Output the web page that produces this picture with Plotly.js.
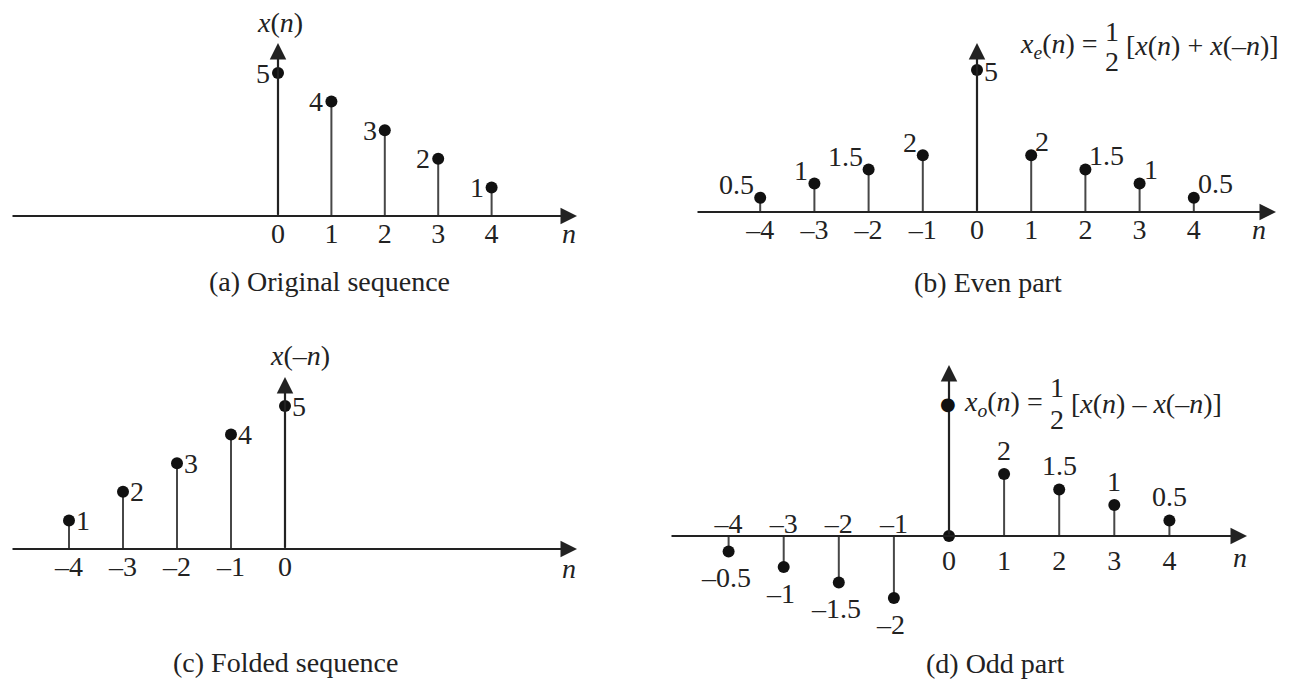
<!DOCTYPE html>
<html>
<head>
<meta charset="utf-8">
<script src="https://cdn.plot.ly/plotly-3.0.1.min.js"></script>
<style>
html,body{margin:0;padding:0;background:#fff;}
#chart{width:1289px;height:681px;}
</style>
</head>
<body>
<div id="chart"></div>
<script>
// ---------------- data ----------------
const nOriginal = [0, 1, 2, 3, 4];
const xOriginal = [5, 4, 3, 2, 1];

const nEven = [-4, -3, -2, -1, 0, 1, 2, 3, 4];
const xEven = [0.5, 1, 1.5, 2, 5, 2, 1.5, 1, 0.5];

const nFolded = [-4, -3, -2, -1, 0];
const xFolded = [1, 2, 3, 4, 5];

const nOdd = [-4, -3, -2, -1, 0, 1, 2, 3, 4];
const xOdd = [-0.5, -1, -1.5, -2, 0, 2, 1.5, 1, 0.5];

const captions = ['(a) Original sequence', '(b) Even part', '(c) Folded sequence', '(d) Odd part'];
const yLabels = ['<i>x</i>(<i>n</i>)', '<i>x</i>(–<i>n</i>)'];
const formulaEven = ['<i>x<sub>e</sub></i>(<i>n</i>) =', '1', '2', '[<i>x</i>(<i>n</i>) + <i>x</i>(–<i>n</i>)]'];
const formulaOdd = ['<i>x<sub>o</sub></i>(<i>n</i>) =', '1', '2', '[<i>x</i>(<i>n</i>) – <i>x</i>(–<i>n</i>)]'];

// ---------------- geometry / style ----------------
const W = 1289, H = 681;
const FONT = 'Liberation Serif, Times New Roman, serif';
const FS = 28;
const INK = '#222';
const STEM = '#474747';

// pixel mapping per panel: origin px, px per unit, subplot box [L,R,T,B], axis extents
const G = {
  a: {ox: 278, sx: 53.4, oy: 216, sy: 28.6, box: [0, 640, 0, 300],   hL: 11,  hR: 577,  vT: 43},
  b: {ox: 977, sx: 54.2, oy: 212, sy: 28.4, box: [645, 1289, 0, 300], hL: 696, hR: 1276, vT: 43},
  c: {ox: 285, sx: 54.0, oy: 549, sy: 28.6, box: [0, 640, 320, 681], hL: 11,  hR: 577,  vT: 377},
  d: {ox: 949, sx: 55.1, oy: 536, sy: 31.0, box: [645, 1289, 320, 681], hL: 670, hR: 1247, vT: 365}
};
function xr(g) { return [(g.box[0] - g.ox) / g.sx, (g.box[1] - g.ox) / g.sx]; }
function yr(g) { return [(g.oy - g.box[3]) / g.sy, (g.oy - g.box[2]) / g.sy]; }
function xd(g) { return [g.box[0] / W, g.box[1] / W]; }
function yd(g) { return [1 - g.box[3] / H, 1 - g.box[2] / H]; }
function P(px, py, xa, ya) {
  return {x: px / W, y: 1 - py / H, xref: 'paper', yref: 'paper',
          xanchor: xa || 'center', yanchor: ya || 'middle'};
}
function fmt(v) { return (v < 0 ? '–' : '') + String(Math.abs(v)); }

const font = {family: FONT, size: FS, color: INK};

function stemTraces(n, v, xa, ya) {
  const sx = [], sy = [];
  n.forEach((k, i) => { sx.push(k, k, null); sy.push(0, v[i], null); });
  return [
    {type: 'scatter', mode: 'lines', x: sx, y: sy, xaxis: xa, yaxis: ya,
     line: {color: STEM, width: 2}, hoverinfo: 'skip', showlegend: false},
    {type: 'scatter', mode: 'markers', x: n, y: v, xaxis: xa, yaxis: ya,
     marker: {color: '#111', size: 12}, hoverinfo: 'skip', showlegend: false, cliponaxis: false}
  ];
}

const negOdd = nOdd.filter(k => k < 0);
const data = [].concat(
  stemTraces(nOriginal, xOriginal, 'x', 'y'),
  stemTraces(nEven, xEven, 'x2', 'y2'),
  stemTraces(nFolded, xFolded, 'x3', 'y3'),
  stemTraces(nOdd, xOdd, 'x4', 'y4'),
  // invisible carrier so the upper tick-label axis of (d) is drawn
  [{type: 'scatter', mode: 'markers', x: negOdd, y: negOdd.map(() => 0), xaxis: 'x5', yaxis: 'y4',
    marker: {opacity: 0}, hoverinfo: 'skip', showlegend: false}]
);

function xAxis(g, vals, extra) {
  return Object.assign({
    domain: xd(g), range: xr(g), anchor: 'free', position: 1 - g.oy / H,
    showgrid: false, zeroline: false, showline: false, ticks: '',
    tickmode: 'array', tickvals: vals, ticktext: vals.map(fmt),
    tickfont: font, fixedrange: true, ticklabelstandoff: -2
  }, extra || {});
}
function yAxis(g) {
  return {domain: yd(g), range: yr(g), visible: false, fixedrange: true};
}

const ann = [];
function arrows(g, xa, ya) {
  const base = {text: '', showarrow: true, arrowhead: 2, arrowsize: 1.5, arrowwidth: 2.2,
                arrowcolor: '#222', xref: xa, yref: ya, axref: xa, ayref: ya};
  ann.push(Object.assign({}, base, {x: (g.hR - g.ox) / g.sx, y: 0, ax: (g.hL - g.ox) / g.sx, ay: 0}));
  ann.push(Object.assign({}, base, {x: 0, y: (g.oy - g.vT) / g.sy, ax: 0, ay: 0}));
}
arrows(G.a, 'x', 'y');
arrows(G.b, 'x2', 'y2');
arrows(G.c, 'x3', 'y3');
arrows(G.d, 'x4', 'y4');

function lab(xa, ya, x, y, text, o) {
  ann.push(Object.assign({xref: xa, yref: ya, x: x, y: y, text: text, showarrow: false, font: font,
                          xanchor: 'center', yanchor: 'middle'}, o));
}
// (a) labels to the left
nOriginal.forEach((k, i) => lab('x', 'y', k, xOriginal[i], fmt(xOriginal[i]), {xanchor: 'right', xshift: -6}));
// (b) labels: left side upper-left, right side upper-right, centre to the right
nEven.forEach((k, i) => {
  const v = xEven[i];
  if (k < 0) lab('x2', 'y2', k, v, fmt(v), {xanchor: 'right', xshift: -4, yshift: 13});
  else if (k > 0) lab('x2', 'y2', k, v, fmt(v), {xanchor: 'left', xshift: 2, yshift: 14});
  else lab('x2', 'y2', k, v, fmt(v), {xanchor: 'left', xshift: 5, yshift: -1});
});
// (c) labels to the right
nFolded.forEach((k, i) => lab('x3', 'y3', k, xFolded[i], fmt(xFolded[i]), {xanchor: 'left', xshift: 5}));
// (d) labels above positive, below negative
nOdd.forEach((k, i) => {
  const v = xOdd[i];
  if (v > 0) lab('x4', 'y4', k, v, fmt(v), {yshift: 24});
  else if (v < 0) lab('x4', 'y4', k, v, fmt(v), {yshift: -26, xshift: -3});
});

// axis names
ann.push(Object.assign(P(280, 22), {text: yLabels[0], showarrow: false, font: font}));
ann.push(Object.assign(P(300, 355), {text: yLabels[1], showarrow: false, font: font}));
[[569, 233], [1259, 230], [569, 568], [1240, 557]].forEach(p =>
  ann.push(Object.assign(P(p[0], p[1]), {text: '<i>n</i>', showarrow: false, font: font})));

// captions
[[330, 281], [988, 282], [285, 662], [995, 663]].forEach((p, i) =>
  ann.push(Object.assign(P(p[0], p[1]), {text: captions[i], showarrow: false, font: font})));

// formulas: left part ends before the fraction, bracket part starts after it
function formula(parts, y0, xf, dy, gap) {
  ann.push(Object.assign(P(xf - gap, y0, 'right'), {text: parts[0], showarrow: false, font: font}));
  ann.push(Object.assign(P(xf, y0 - dy), {text: parts[1], showarrow: false, font: font}));
  ann.push(Object.assign(P(xf, y0 + dy), {text: parts[2], showarrow: false, font: font}));
  ann.push(Object.assign(P(xf + gap, y0, 'left'), {text: parts[3], showarrow: false, font: font}));
}
formula(formulaEven, 46, 1112, 15, 12);
formula(formulaOdd, 403, 1057, 16, 12);
// dot drawn on the vertical axis of (d) next to its formula
ann.push(Object.assign(P(G.d.ox - 1, 403), {text: '●', showarrow: false,
  font: {family: 'DejaVu Sans', size: 18, color: '#111'}}));

const layout = {
  width: W, height: H, margin: {l: 0, r: 0, t: 0, b: 0},
  paper_bgcolor: '#fff', plot_bgcolor: 'rgba(0,0,0,0)', showlegend: false,
  xaxis: xAxis(G.a, nOriginal), yaxis: yAxis(G.a),
  xaxis2: xAxis(G.b, nEven), yaxis2: yAxis(G.b),
  xaxis3: xAxis(G.c, nFolded), yaxis3: yAxis(G.c),
  xaxis4: xAxis(G.d, nOdd.filter(k => k >= 0), {ticklabelstandoff: 5}), yaxis4: yAxis(G.d),
  xaxis5: xAxis(G.d, negOdd, {side: 'top', overlaying: 'x4', ticklabelstandoff: -3}),
  annotations: ann
};

Plotly.newPlot('chart', data, layout, {staticPlot: true, displayModeBar: false});
</script>
</body>
</html>
